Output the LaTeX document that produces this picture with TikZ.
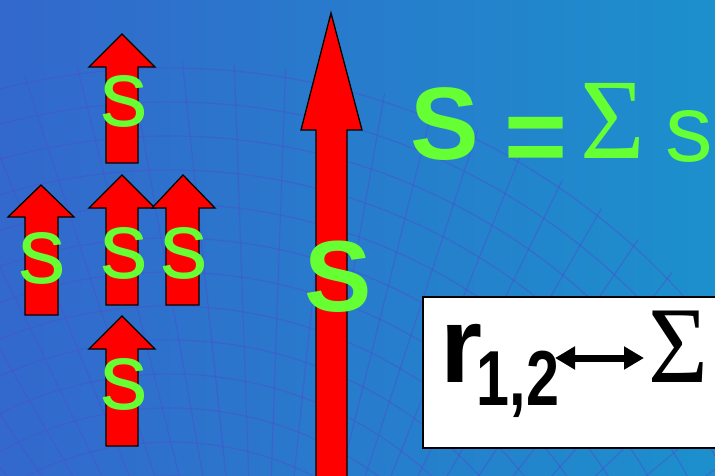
\documentclass[tikz,border=0pt]{standalone}
\usepackage{fontspec}
\setmainfont{Liberation Sans}
\newfontfamily\serifgreek{Liberation Serif}
\usepackage{graphicx}
\usetikzlibrary{arrows.meta}
\definecolor{bgL}{HTML}{3368CC}
\definecolor{bgR}{HTML}{1C90CC}
\definecolor{meshc}{HTML}{4A52CC}
\definecolor{spinred}{HTML}{FF0000}
\definecolor{spingreen}{HTML}{66FF33}
\begin{document}
\begin{tikzpicture}[x=1pt,y=-1pt,
  spin/.style={fill=spinred, draw=black, line width=1.3pt, line join=miter},
  smalls/.style={text=spingreen, font=\fontsize{95}{100}\selectfont, inner sep=0pt, anchor=base},
  bigS/.style={text=spingreen, font=\fontsize{103}{110}\selectfont\bfseries, inner sep=0pt, anchor=base},
  meshline/.style={draw=meshc, line width=1.2pt, opacity=0.5},
  blacktxt/.style={text=black, inner sep=0pt, anchor=base}]
\useasboundingbox (0,0) rectangle (715,476);
\clip (0,0) rectangle (715,476);
\shade[left color=bgL, right color=bgR] (0,0) rectangle (715,476);
% faint globe mesh
\begin{scope}
  \clip (170,760) circle[radius=700pt];
  \foreach \r in {250,284,...,700} \draw[meshline] (170,760) circle[radius=\r pt];
  \foreach \a in {20,24,...,160} \draw[meshline] (260,800) -- ({260+1000*cos(\a)},{800-1000*sin(\a)});
\end{scope}
% small spin arrows
\draw[spin] (122,34) -- (155,67) -- (138,67) -- (138,163) -- (106,163) -- (106,67) -- (89,67) -- cycle;
\draw[spin] (41,185) -- (74,217) -- (58,217) -- (58,315) -- (25,315) -- (25,217) -- (8,217) -- cycle;
\draw[spin] (122,175) -- (155,208) -- (138,208) -- (138,305) -- (106,305) -- (106,208) -- (89,208) -- cycle;
\draw[spin] (183,175) -- (215,208) -- (199,208) -- (199,305) -- (166,305) -- (166,208) -- (152,208) -- cycle;
\draw[spin] (122,316) -- (155,349) -- (138,349) -- (138,446) -- (106,446) -- (106,349) -- (89,349) -- cycle;
% big arrow
\draw[spin] (331,13) -- (362,130) -- (347,130) -- (347,490) -- (316,490) -- (316,130) -- (301,130) -- cycle;
% labels s
\node[smalls] (s1) at (124,127) {s};
\node[smalls] (s2) at (42,283) {s};
\node[smalls] (s3) at (124,278) {s};
\node[smalls] (s4) at (184,278) {s};
\node[smalls] (s5) at (124,409) {s};
\node[bigS, font=\fontsize{101}{110}\selectfont\bfseries] (S0) at (338,311) {S};
% formula
\node[bigS] (Sf) at (445,160) {S};
\node[text=spingreen, inner sep=0pt, anchor=base, font=\fontsize{108}{110}\selectfont\bfseries\itshape] (eq) at (534,174) {=};
\node[text=spingreen, inner sep=0pt, anchor=base, font=\serifgreek\fontsize{94}{100}\selectfont] (sig) at (613,159) {\scalebox{1.18}[1.22]{Σ}};
\node[smalls] (sf) at (689,161) {s};
% box
\node[draw=black, fill=white, line width=1.5pt, inner sep=0pt, minimum width=303pt, minimum height=151pt, anchor=north west] (box) at (422,296) {};
\node[blacktxt, font=\fontsize{108}{120}\selectfont\bfseries] (r) at (462,382) {r};
\node[blacktxt, font=\fontsize{78}{80}\selectfont\bfseries] (sub) at (518,405) {\scalebox{0.76}[1]{1,2}};
\coordinate (al) at (555,358);
\coordinate (ar) at (644,358);
\draw[line width=7pt, {Triangle[length=20pt,width=22pt]}-{Triangle[length=20pt,width=22pt]}] (al) -- (ar);
\node[blacktxt, font=\serifgreek\fontsize{91}{100}\selectfont] (bsig) at (678,382) {\scalebox{1.13}[1.2]{Σ}};
\end{tikzpicture}
\end{document}
